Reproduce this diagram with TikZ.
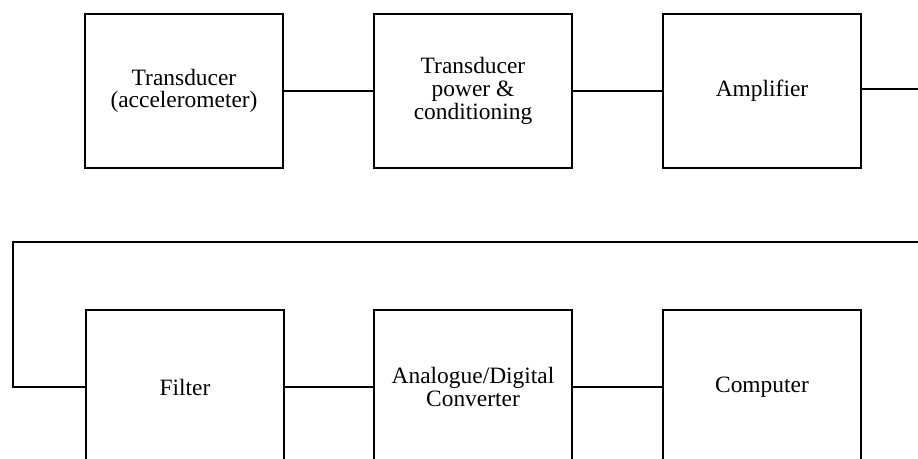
\documentclass[tikz,border=0pt]{standalone}
\usepackage{fontspec}
\setmainfont{Liberation Serif}
\usetikzlibrary{positioning}

\tikzset{
  block/.style={draw, line width=1.6pt, minimum width=5.94cm, minimum height=4.62cm,
    inner sep=0pt, align=center, font=\fontsize{20}{19.3}\selectfont},
  link/.style={line width=1.2pt}
}

\begin{document}
\begin{tikzpicture}[x=0.03cm, y=-0.03cm]
	\useasboundingbox (0,0) rectangle (918,459);
	\clip (0,0) rectangle (918,459);
	
	% top row
	\node [block] (trans) at (184,91) {Transducer\\(accelerometer)};
	\node [block] (power) at (473,91) {Transducer\\power \&\\conditioning};
	\node [block] (amp) at (762,91) {Amplifier};
	
	% bottom row
	\node [block] (filter) at (185,387) {Filter};
	\node [block] (adc) at (473,387) {Analogue/Digital\\Converter};
	\node [block] (comp) at (762,387) {Computer};
	
	\coordinate (outr) at (918,89);
	\coordinate (backr) at (918,242);
	\coordinate (backl) at (13,242);
	
	\draw [link] (trans) -- (power);
	\draw [link] (power) -- (amp);
	\draw [link] (amp.east |- outr) -- (outr);
	\draw [link] (backr) -- (backl) |- (filter.west);
	\draw [link] (filter) -- (adc);
	\draw [link] (adc) -- (comp);
\end{tikzpicture}
\end{document}
